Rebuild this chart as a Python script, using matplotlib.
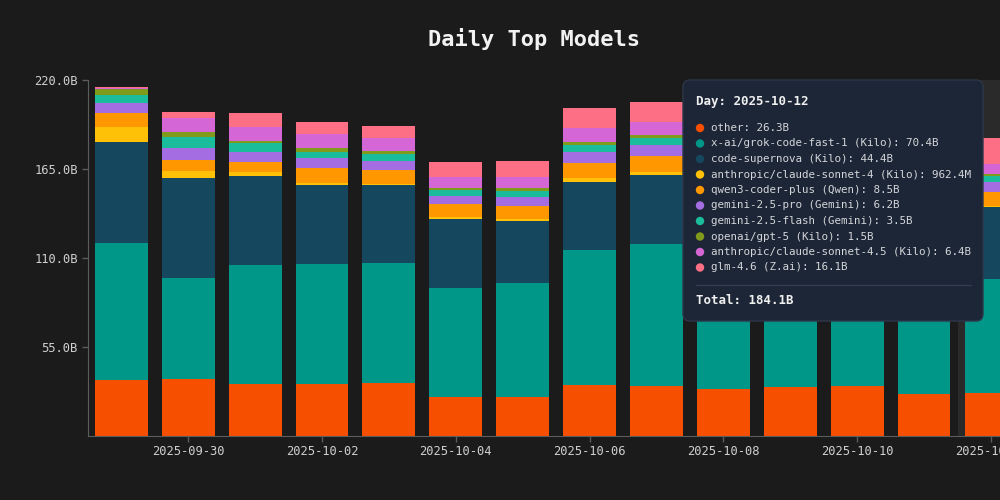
import matplotlib.pyplot as plt
from matplotlib.patches import FancyBboxPatch, Circle
import numpy as np

# data (billions of tokens per day)
dates = ["2025-09-29", "2025-09-30", "2025-10-01", "2025-10-02", "2025-10-03",
         "2025-10-04", "2025-10-05", "2025-10-06", "2025-10-07", "2025-10-08",
         "2025-10-09", "2025-10-10", "2025-10-11", "2025-10-12"]

other = [34.4, 35.2, 31.8, 31.8, 32.8, 24.1, 24.1, 31.1, 30.9, 28.9, 30.3, 30.5, 25.6, 26.34]
grok = [84.5, 62.1, 73.5, 74.1, 73.9, 67.0, 70.3, 83.5, 87.6, 84.0, 82.0, 80.0, 72.0, 70.44]
supernova = [62.5, 62.2, 55.2, 49.0, 48.1, 42.9, 38.3, 42.4, 42.7, 45.0, 46.0, 45.0, 44.0, 44.4]
sonnet4 = [9.2, 4.3, 2.5, 1.1, 0.6, 1.0, 1.2, 2.1, 1.6, 1.3, 1.2, 1.1, 1.0, 0.9624]
qwen = [8.7, 6.6, 6.3, 9.3, 8.8, 8.0, 8.3, 9.6, 10.3, 9.5, 9.2, 9.0, 8.6, 8.46]
gem_pro = [6.1, 7.6, 6.2, 6.1, 5.8, 5.1, 5.5, 6.5, 6.6, 6.4, 6.5, 6.3, 6.0, 6.16]
gem_flash = [5.2, 6.4, 5.2, 4.1, 3.9, 3.8, 3.7, 4.5, 4.3, 4.0, 3.9, 3.7, 3.5, 3.46]
gpt5 = [3.7, 3.1, 1.4, 2.1, 2.1, 1.4, 1.5, 2.0, 1.9, 1.8, 1.7, 1.6, 1.5, 1.46]
sonnet45 = [0.6, 8.7, 8.9, 8.9, 7.8, 6.8, 6.8, 8.3, 8.2, 7.5, 7.2, 6.9, 6.5, 6.36]
glm = [0.4, 3.9, 8.3, 7.2, 7.8, 8.9, 10.1, 12.3, 12.4, 13.0, 14.0, 15.0, 15.5, 16.06]

names = ["other", "x-ai/grok-code-fast-1 (Kilo)", "code-supernova (Kilo)",
         "anthropic/claude-sonnet-4 (Kilo)", "qwen3-coder-plus (Qwen)",
         "gemini-2.5-pro (Gemini)", "gemini-2.5-flash (Gemini)", "openai/gpt-5 (Kilo)",
         "anthropic/claude-sonnet-4.5 (Kilo)", "glm-4.6 (Z.ai)"]
series = [other, grok, supernova, sonnet4, qwen, gem_pro, gem_flash, gpt5, sonnet45, glm]
colors = ["#f64f00", "#009688", "#15475e", "#ffc107", "#ff9800",
          "#a56de2", "#1abc9c", "#809a1c", "#d466d6", "#fd6f84"]

yticks = [55, 110, 165, 220]
hover_idx = 13

BG = "#1b1b1b"
MONO = "DejaVu Sans Mono"


def fmt(v):
    if v >= 1:
        return f"{v:.1f}B"
    return f"{v * 1000:.1f}M"


fig = plt.figure(figsize=(10, 5), dpi=100, facecolor=BG)
ax = fig.add_axes([0.0875, 0.1286, 0.9125, 0.712])
ax.set_facecolor(BG)

x = np.arange(len(dates))
ax.axvspan(hover_idx - 0.5, hover_idx + 0.5, color="#2a2a2a", zorder=0, lw=0)

bottom = np.zeros(len(dates))
for vals, col in zip(series, colors):
    ax.bar(x, vals, bottom=bottom, width=0.79, color=col, zorder=2, lw=0)
    bottom += np.array(vals)

ax.set_xlim(-0.505, 13.135)
ax.set_ylim(0, 220)
ax.set_xticks(x[1::2])
ax.set_xticklabels([dates[i] for i in x[1::2]], fontsize=8.7, family=MONO, color="#cfcfcf")
ax.set_yticks(yticks)
ax.set_yticklabels([f"{v:.1f}B" for v in yticks], fontsize=8.7, family=MONO, color="#cfcfcf")
for s in ["top", "right"]:
    ax.spines[s].set_visible(False)
for s in ["left", "bottom"]:
    ax.spines[s].set_color("#5c5c5c")
ax.tick_params(colors="#5c5c5c", length=4, width=1, labelcolor="#cfcfcf", pad=3)

fig.text(0.534, 0.922, "Daily Top Models", ha="center", va="center",
         fontsize=15.8, fontweight="bold", family=MONO, color="#f2f2f2")

# tooltip overlay in pixel coordinates
ov = fig.add_axes([0, 0, 1, 1], zorder=10)
ov.set_xlim(0, 1000)
ov.set_ylim(500, 0)
ov.axis("off")
ov.patch.set_alpha(0)

ov.add_patch(FancyBboxPatch((683, 80), 300, 241, boxstyle="round,pad=0,rounding_size=7",
                            fc="#1d2636", ec="#2e3749", lw=1))
ov.text(696, 101, f"Day: {dates[hover_idx]}", fontsize=8.9, fontweight="bold",
        family=MONO, color="#f0f0f0", va="center")
for i, (nm, vals, col) in enumerate(zip(names, series, colors)):
    yy = 128 + i * 15.5
    ov.add_patch(Circle((700, yy), 4.2, fc=col, ec="none"))
    ov.text(711, yy, f"{nm}: {fmt(vals[hover_idx])}", fontsize=7.8,
            family=MONO, color="#d4d6da", va="center")
ov.plot([696, 971], [285, 285], color="#343d4f", lw=1)
total = sum(v[hover_idx] for v in series)
ov.text(696, 300, f"Total: {fmt(total)}", fontsize=8.9, fontweight="bold",
        family=MONO, color="#f0f0f0", va="center")

fig.savefig("out.png", dpi=100, facecolor=BG)
